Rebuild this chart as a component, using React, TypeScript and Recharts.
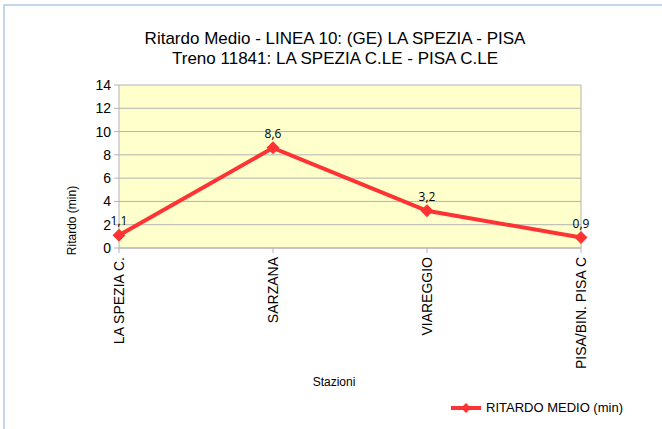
import React from "react";
import { LineChart, Line, XAxis, YAxis, CartesianGrid, Legend, LabelList, ReferenceLine } from "recharts";

const stazioni = ["LA SPEZIA C.", "SARZANA", "VIAREGGIO", "PISA/BIN. PISA C"];
const ritardoMedio = [1.1, 8.6, 3.2, 0.9];
const yTicks = [0, 2, 4, 6, 8, 10, 12, 14];

const data = stazioni.map((s, i) => ({ stazione: s, ritardo: ritardoMedio[i] }));

const FONT = "'Liberation Sans', Arial, sans-serif";
const RED = "#ff3333";
const GRID = "#b3b3b3";

function Diamond(props: any) {
  const { cx, cy } = props;
  if (cx == null || cy == null) return null;
  const r = 6.5;
  return (
    <polygon
      points={`${cx},${cy - r} ${cx + r},${cy} ${cx},${cy + r} ${cx - r},${cy}`}
      fill={RED}
      stroke="none"
    />
  );
}

function XTick(props: any) {
  const { x, y, payload } = props;
  return (
    <text
      transform={`translate(${x},${y + 2}) rotate(-90)`}
      textAnchor="end"
      dy="0.36em"
      fontSize={14}
      fontFamily={FONT}
      fill="#000"
    >
      {payload.value}
    </text>
  );
}

function renderLegend(props: any) {
  const { payload } = props;
  return (
    <div style={{ display: "flex", alignItems: "center", fontFamily: FONT, fontSize: 13, color: "#000" }}>
      {payload.map((e: any) => (
        <span key={e.value} style={{ display: "flex", alignItems: "center" }}>
          <svg width={32} height={12} style={{ marginRight: 4 }}>
            <line x1={1} y1={6} x2={31} y2={6} stroke={RED} strokeWidth={4} />
            <polygon points="16,1 21,6 16,11 11,6" fill={RED} />
          </svg>
          <span>{e.value}</span>
        </span>
      ))}
    </div>
  );
}

export default function App() {
  return (
    <div style={{ position: "absolute", left: 0, top: 0, width: 662, height: 429, overflow: "hidden", background: "#fff" }}>
      <div
        style={{
          position: "absolute",
          left: 3,
          top: 4,
          width: 700,
          height: 470,
          borderTop: "2px solid #c6d5ec",
          borderLeft: "2px solid #c6d5ec",
        }}
      />
      <div
        style={{
          position: "absolute",
          left: 0,
          top: 29,
          width: 670,
          textAlign: "center",
          fontFamily: FONT,
          fontSize: 17,
          lineHeight: "20px",
          color: "#000",
        }}
      >
        <div>Ritardo Medio - LINEA 10: (GE) LA SPEZIA - PISA</div>
        <div>Treno 11841: LA SPEZIA C.LE - PISA C.LE</div>
      </div>
      <div style={{ position: "absolute", left: 0, top: 0 }}>
        <LineChart width={662} height={429} data={data} margin={{ top: 85, right: 81, left: 79, bottom: 41 }}>
          <CartesianGrid horizontal vertical={false} stroke={GRID} fill="#ffffcc" />
          <XAxis
            dataKey="stazione"
            height={140}
            interval={0}
            tick={<XTick />}
            tickSize={5}
            axisLine={{ stroke: GRID }}
            tickLine={{ stroke: GRID }}
            label={(p: any) => {
              const vb = p.viewBox;
              return (
                <text x={vb.x + vb.width / 2 - 16} y={vb.y + 138} textAnchor="middle" fontSize={12} fontFamily={FONT} fill="#000">
                  Stazioni
                </text>
              );
            }}
          />
          <YAxis
            width={40}
            domain={[0, 14]}
            ticks={yTicks}
            interval={0}
            tickSize={5}
            tickMargin={3}
            axisLine={{ stroke: GRID }}
            tickLine={{ stroke: GRID }}
            tick={{ fontSize: 14, fontFamily: FONT, fill: "#000" }}
            label={(p: any) => {
              const vb = p.viewBox;
              const cx = vb.x - 3;
              const cy = vb.y + vb.height / 2 + 54;
              return (
                <text
                  transform={`translate(${cx},${cy}) rotate(-90)`}
                  textAnchor="middle"
                  fontSize={12}
                  fontFamily={FONT}
                  fill="#000"
                >
                  Ritardo (min)
                </text>
              );
            }}
          />
          <ReferenceLine x={stazioni[stazioni.length - 1]} stroke={GRID} />
          <Legend
            layout="horizontal"
            verticalAlign="middle"
            align="center"
            content={renderLegend}
            wrapperStyle={{ left: 450, top: 400, width: 220, height: 16 }}
          />
          <Line
            type="linear"
            dataKey="ritardo"
            name="RITARDO MEDIO (min)"
            stroke={RED}
            strokeWidth={4}
            dot={<Diamond />}
            activeDot={false}
            isAnimationActive={false}
          >
            <LabelList
              dataKey="ritardo"
              position="top"
              offset={10}
              formatter={(v: any) => String(v).replace(".", ",")}
              style={{ fontSize: 12, fontFamily: "'Open Sans', sans-serif", fill: "#000" }}
            />
          </Line>
        </LineChart>
      </div>
    </div>
  );
}
